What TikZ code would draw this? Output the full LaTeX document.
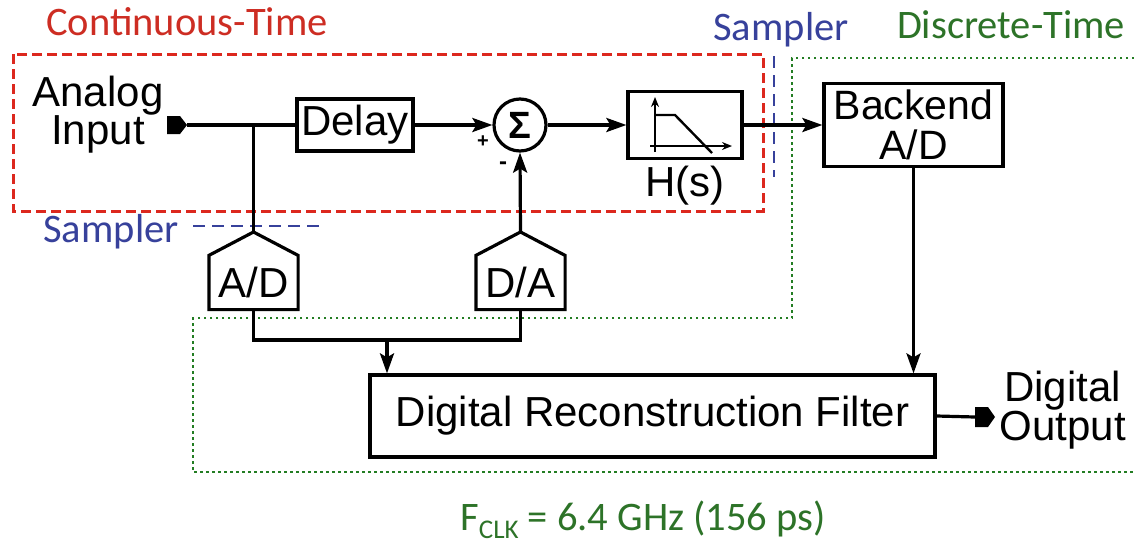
\documentclass[tikz,border=0pt]{standalone}
\usepackage{fontspec}
\setmainfont{Liberation Sans}
\newfontfamily\calfont{Carlito}
\usetikzlibrary{arrows.meta}
\definecolor{ctred}{RGB}{205,45,35}
\definecolor{boxred}{RGB}{220,40,30}
\definecolor{smpblue}{RGB}{55,65,155}
\definecolor{dtgreen}{RGB}{45,115,40}
\definecolor{dotgreen}{RGB}{35,125,35}
\begin{document}
\begin{tikzpicture}[x=1pt,y=-1pt,line width=3.2pt,
  >={Stealth[length=20pt,width=14pt,inset=4pt]},
  blk/.style={draw,rectangle,inner sep=0pt,font=\fontsize{42}{37}\selectfont},
  lbl/.style={inner sep=0pt,font=\fontsize{42}{38}\selectfont,align=center},
  region/.style={inner sep=0pt,font=\calfont\fontsize{40.5}{40}\selectfont},
  conv/.style={rectangle,inner sep=0pt,minimum width=86pt,minimum height=51pt,font=\fontsize{42}{38}\selectfont}]
\useasboundingbox (0,0) rectangle (1134,544);

% regions
\draw[boxred,line width=3pt,dash pattern=on 10pt off 5pt] (13,54) rectangle (763,211);
\draw[dotgreen,line width=2.8pt,dash pattern=on 2.5pt off 3.5pt] (1134,58) -- (792,58) -- (792,318) -- (193,318) -- (193,472) -- (1134,472);
\draw[smpblue,line width=1.5pt,dash pattern=on 12pt off 7pt] (774,56) -- (774,177);
\draw[smpblue,line width=1.5pt,dash pattern=on 12pt off 7pt] (193,226) -- (322,226);

\node[region,text=ctred] (ctlabel) at (187,22) {Continuous-Time};
\node[region,text=smpblue] (smp1) at (781,30) {Sampler};
\node[region,text=dtgreen] (dtlabel) at (1011,25) {Discrete-Time};
\node[region,text=smpblue] (smp2) at (111,232) {Sampler};
\node[region,text=dtgreen] (fclk) at (643,520) {F\raisebox{-8pt}{\fontsize{27}{27}\selectfont CLK} = 6.4 GHz (156 ps)};

% blocks
\node[lbl] (ain) at (98,115) {Analog\\Input};
\coordinate (tin) at (187,125);
\fill (167,116) -- (180,116) -- (tin) -- (180,134) -- (167,134) -- cycle;
\node[blk,minimum width=116pt,minimum height=52pt] (delay) at (355,125) {Delay};
\node[draw,circle,inner sep=0pt,minimum size=52pt,font=\bfseries\fontsize{38}{38}\selectfont] (sum) at (520,125) {Σ};
\node[inner sep=0pt,font=\bfseries\fontsize{20}{20}\selectfont] (plus) at (483,142) {+};
\node[inner sep=0pt,font=\bfseries\fontsize{24}{24}\selectfont] (minus) at (503,166) {-};
\node[blk,minimum width=114pt,minimum height=67pt] (H) at (685,125) {};
\node[lbl] (hs) at (685,186) {H(s)};
\node[blk,minimum width=179pt,minimum height=83pt,align=center,font=\fontsize{41}{40}\selectfont] (back) at (913.5,125) {Backend\\A/D};
\node[blk,minimum width=565pt,minimum height=82pt] (filt) at (652.5,416) {Digital Reconstruction Filter};
\coordinate (tout) at (995,417);
\node[lbl,anchor=west] (dout) at (998,410) {Digital\\Output};

% converters (pentagons)
\node[conv] (ad) at (253.5,282.5) {A/D};
\coordinate (adtop) at (253.5,232);
\draw (ad.south west) -- (ad.north west) -- (adtop) -- (ad.north east) -- (ad.south east) -- cycle;
\node[conv] (da) at (520.5,282.5) {D/A};
\coordinate (datop) at (520.5,232);
\draw (da.south west) -- (da.north west) -- (datop) -- (da.north east) -- (da.south east) -- cycle;

% low pass icon
\begin{scope}[line width=2.4pt,>={Stealth[length=10pt,width=8pt]}]
\draw[->] (655,152) -- (655,97);
\draw[->] (650,146) -- (732,146);
\draw (655,115) -- (675,115) -- (712,153);
\end{scope}

% connectors
\coordinate (br) at (253.5,125);
\coordinate (j) at (387,340);
\draw (tin) -- (delay.west);
\draw (br) -- (adtop);
\draw[->] (delay.east) -- (sum.west);
\draw[->] (sum.east) -- (H.west);
\draw[->] (H.east) -- (back.west);
\draw[->] (datop) -- (sum.south);
\draw[->] (back.south) -- (back.south |- filt.north);
\draw (ad.south) -- (ad.south |- j) -- (da.south |- j) -- (da.south);
\draw[->] (j) -- (j |- filt.north);
\draw (filt.east) -- (975,417);
\fill (975,407) -- (988,407) -- (tout) -- (988,427) -- (975,427) -- cycle;
\end{tikzpicture}
\end{document}
